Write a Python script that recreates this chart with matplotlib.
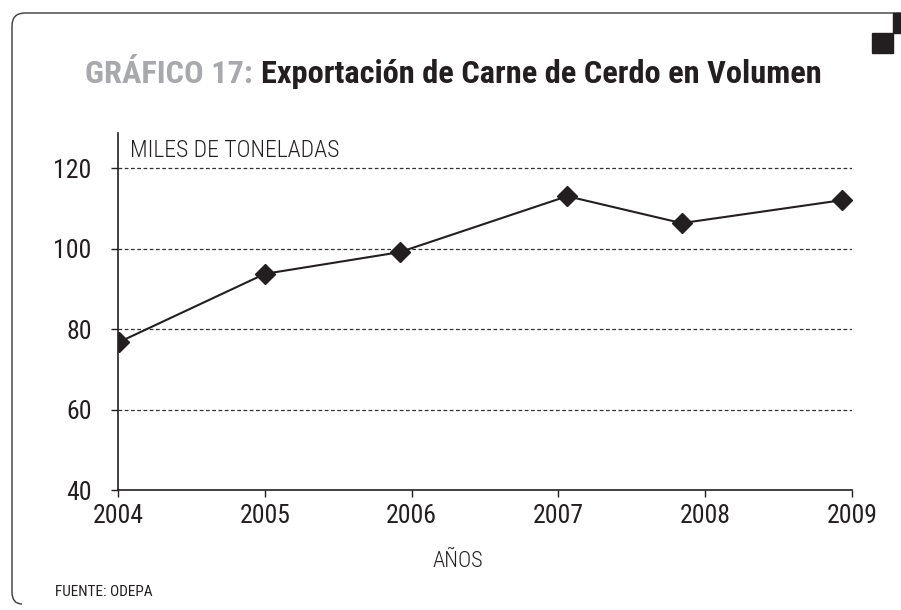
import matplotlib
matplotlib.use("Agg")
import matplotlib.pyplot as plt
from matplotlib.patches import Rectangle, PathPatch
from matplotlib.path import Path

# datos
anios = [2004, 2005, 2006, 2007, 2008, 2009]
# posicion de cada punto en el eje (los puntos no caen justo sobre el tick)
posicion = [2004.01, 2005.0, 2005.92, 2007.06, 2007.84, 2008.93]
volumen = [76.8, 93.7, 99.1, 113.0, 106.3, 112.0]
y_ticks = [40, 60, 80, 100, 120]

plt.rcParams["font.family"] = ["Roboto Condensed", "DejaVu Sans"]

oscuro = "#231f20"
gris = "#a7a9ac"

fig = plt.figure(figsize=(9.01, 6.10), dpi=100)
W, H = 901, 610


def fx(px):
    return px / W


def fy(py):
    return 1 - py / H


# marco con esquina redondeada arriba a la izquierda
r = 13
verts = [(fx(12), fy(592)), (fx(12), fy(13 + r)), (fx(12), fy(13)), (fx(12 + r), fy(13)), (fx(901), fy(13))]
codes = [Path.MOVETO, Path.LINETO, Path.CURVE3, Path.CURVE3, Path.LINETO]
fig.add_artist(PathPatch(Path(verts, codes), transform=fig.transFigure, fill=False,
                         edgecolor="#3a3a3a", lw=1.0))
verts2 = [(fx(12), fy(592)), (fx(12), fy(604)), (fx(22), fy(604))]
fig.add_artist(PathPatch(Path(verts2, [Path.MOVETO, Path.CURVE3, Path.CURVE3]), transform=fig.transFigure,
                         fill=False, edgecolor="#3a3a3a", lw=1.0))
# cuadros negros arriba a la derecha
fig.add_artist(Rectangle((fx(872), fy(53)), fx(21), 20 / H, transform=fig.transFigure, color=oscuro))
fig.add_artist(Rectangle((fx(893), fy(33)), fx(8), 20 / H, transform=fig.transFigure, color=oscuro))

# titulo en dos colores
t1 = fig.text(fx(85), fy(83), "GRÁFICO 17:", fontsize=23.3, fontweight="bold", color=gris,
              ha="left", va="baseline")
fig.canvas.draw()
bb = t1.get_window_extent()
fig.text(bb.x1 / W + fx(8), fy(83), "Exportación de Carne de Cerdo en Volumen", fontsize=23.3,
         fontweight="bold", color=oscuro, ha="left", va="baseline")

ax = fig.add_axes([118 / W, 1 - 490 / H, (852 - 118) / W, (490 - 133) / H])
ax.plot(posicion, volumen, color=oscuro, lw=1.5, marker="D", markersize=10, zorder=3)
ax.set_xlim(2004, 2009)
ax.set_ylim(40, 128.7)
ax.set_xticks(anios)
ax.set_yticks(y_ticks)
ax.tick_params(axis="both", labelsize=18.5, colors=oscuro, length=5, width=1)
ax.tick_params(axis="x", pad=5)
ax.tick_params(axis="y", pad=14)
for lab in ax.get_xticklabels() + ax.get_yticklabels():
    lab.set_fontweight(400)
for g in y_ticks[1:]:
    ax.axhline(g, color="#333333", lw=0.9, ls=(0, (3, 2)), zorder=1)
ax.spines["top"].set_visible(False)
ax.spines["right"].set_visible(False)
for s in ["left", "bottom"]:
    ax.spines[s].set_color(oscuro)
    ax.spines[s].set_linewidth(1.2)

fig.text(fx(130), fy(157), "MILES DE TONELADAS", fontsize=17, fontweight=300, color=oscuro,
         ha="left", va="baseline")
fig.text(fx(458), fy(567), "AÑOS", fontsize=16, fontweight=300, color=oscuro, ha="center", va="baseline")
fig.text(fx(55), fy(596), "FUENTE: ODEPA", fontsize=11, color=oscuro, ha="left", va="baseline")

fig.savefig("out.png", dpi=100)
